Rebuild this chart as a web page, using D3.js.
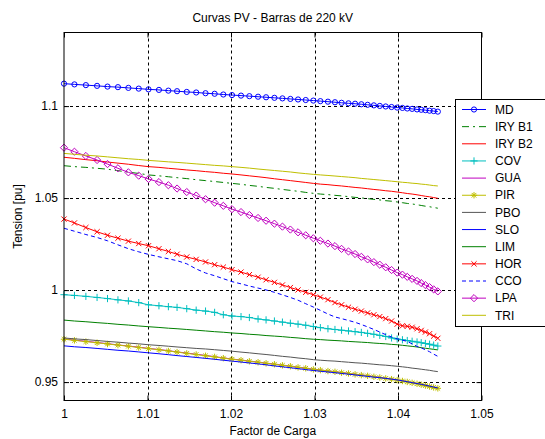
<!DOCTYPE html>
<html><head><meta charset="utf-8">
<script src="https://cdn.jsdelivr.net/npm/d3@7"></script>
<style>
html,body{margin:0;padding:0;background:#fff;}
svg{display:block;}
text{font-family:"Liberation Sans",Arial,sans-serif;}
</style>
</head><body>
<div id="chart"></div>
<script>
// ---------------- DATA ----------------
const chartTitle = "Curvas PV - Barras de 220 kV";
const xLabel = "Factor de Carga";
const yLabel = "Tension [pu]";
const seriesNames = ["MD","IRY B1","IRY B2","COV","GUA","PIR","PBO","SLO","LIM","HOR","CCO","LPA","TRI"];
const xTicks = [1, 1.01, 1.02, 1.03, 1.04, 1.05];
const xTickLabels = ["1","1.01","1.02","1.03","1.04","1.05"];
const yTicks = [0.95, 1, 1.05, 1.1];
const yTickLabels = ["0.95","1","1.05","1.1"];

const loadFactor = [1.00000,1.00125,1.00262,1.00396,1.00521,1.00646,1.00771,1.00895,1.01012,1.01137,
1.01250,1.01354,1.01470,1.01583,1.01695,1.01804,1.01908,1.02012,1.02120,1.02220,
1.02324,1.02420,1.02520,1.02616,1.02711,1.02803,1.02895,1.02986,1.03070,1.03161,
1.03245,1.03324,1.03407,1.03486,1.03561,1.03636,1.03711,1.03782,1.03853,1.03923,
1.03990,1.04053,1.04111,1.04169,1.04228,1.04278,1.04328,1.04378,1.04427,1.04477];

const md = [1.1122,1.1118,1.1114,1.1110,1.1106,1.1103,1.1099,1.1095,1.1091,1.1088,
1.1084,1.1081,1.1077,1.1074,1.1070,1.1067,1.1063,1.1060,1.1057,1.1054,
1.1051,1.1048,1.1045,1.1042,1.1039,1.1036,1.1033,1.1030,1.1027,1.1024,
1.1021,1.1018,1.1015,1.1013,1.1010,1.1007,1.1004,1.1001,1.0998,1.0995,
1.0992,1.0990,1.0987,1.0985,1.0982,1.0980,1.0978,1.0975,1.0973,1.0970];
const iryB1 = [1.0676,1.0671,1.0667,1.0662,1.0657,1.0649,1.0641,1.0634,1.0626,1.0621,
1.0616,1.0611,1.0606,1.0600,1.0595,1.0590,1.0585,1.0580,1.0575,1.0569,
1.0564,1.0558,1.0553,1.0547,1.0542,1.0537,1.0531,1.0526,1.0522,1.0519,
1.0515,1.0512,1.0508,1.0504,1.0501,1.0497,1.0493,1.0490,1.0486,1.0483,
1.0479,1.0475,1.0471,1.0468,1.0464,1.0460,1.0456,1.0453,1.0449,1.0445];
const iryB2 = [1.0722,1.0716,1.0709,1.0703,1.0696,1.0690,1.0684,1.0677,1.0671,1.0667,
1.0662,1.0658,1.0653,1.0649,1.0644,1.0640,1.0635,1.0631,1.0626,1.0621,
1.0616,1.0611,1.0605,1.0600,1.0595,1.0590,1.0585,1.0580,1.0576,1.0573,
1.0569,1.0566,1.0562,1.0558,1.0555,1.0551,1.0547,1.0544,1.0540,1.0537,
1.0533,1.0529,1.0525,1.0522,1.0518,1.0514,1.0510,1.0507,1.0503,1.0499];
const cov = [0.9975,0.9971,0.9966,0.9960,0.9954,0.9947,0.9941,0.9932,0.9920,0.9915,
0.9910,0.9906,0.9899,0.9891,0.9886,0.9879,0.9866,0.9859,0.9856,0.9851,
0.9843,0.9838,0.9832,0.9826,0.9820,0.9815,0.9809,0.9802,0.9796,0.9790,
0.9786,0.9782,0.9778,0.9774,0.9770,0.9765,0.9760,0.9754,0.9748,0.9740,
0.9734,0.9730,0.9726,0.9722,0.9718,0.9714,0.9710,0.9706,0.9701,0.9696];
const gua = [0.9735,0.9728,0.9722,0.9715,0.9709,0.9702,0.9696,0.9690,0.9683,0.9677,
0.9671,0.9664,0.9658,0.9651,0.9645,0.9638,0.9632,0.9625,0.9620,0.9614,
0.9609,0.9603,0.9598,0.9592,0.9587,0.9581,0.9576,0.9570,0.9566,0.9561,
0.9557,0.9552,0.9548,0.9543,0.9539,0.9535,0.9530,0.9526,0.9521,0.9517,
0.9512,0.9507,0.9502,0.9497,0.9492,0.9487,0.9482,0.9477,0.9472,0.9467];
const pir = [0.9733,0.9727,0.9720,0.9714,0.9707,0.9701,0.9695,0.9688,0.9682,0.9676,
0.9669,0.9663,0.9656,0.9650,0.9643,0.9637,0.9630,0.9624,0.9619,0.9613,
0.9608,0.9602,0.9597,0.9591,0.9586,0.9580,0.9575,0.9569,0.9565,0.9560,
0.9556,0.9551,0.9547,0.9542,0.9538,0.9534,0.9529,0.9525,0.9520,0.9516,
0.9511,0.9506,0.9501,0.9496,0.9491,0.9486,0.9481,0.9476,0.9471,0.9466];
const pbo = [0.9740,0.9735,0.9731,0.9726,0.9721,0.9717,0.9712,0.9708,0.9703,0.9699,
0.9695,0.9691,0.9687,0.9683,0.9680,0.9676,0.9672,0.9668,0.9663,0.9659,
0.9654,0.9650,0.9645,0.9640,0.9636,0.9631,0.9627,0.9622,0.9619,0.9616,
0.9614,0.9611,0.9608,0.9605,0.9603,0.9600,0.9597,0.9594,0.9592,0.9589,
0.9586,0.9583,0.9580,0.9576,0.9573,0.9570,0.9567,0.9564,0.9560,0.9557];
const slo = [0.9697,0.9692,0.9688,0.9683,0.9678,0.9673,0.9669,0.9664,0.9659,0.9654,
0.9649,0.9644,0.9639,0.9634,0.9629,0.9624,0.9619,0.9614,0.9609,0.9604,
0.9599,0.9594,0.9588,0.9583,0.9578,0.9573,0.9568,0.9563,0.9559,0.9555,
0.9551,0.9547,0.9543,0.9539,0.9535,0.9531,0.9527,0.9524,0.9520,0.9516,
0.9512,0.9507,0.9502,0.9497,0.9492,0.9488,0.9483,0.9478,0.9473,0.9468];
const lim = [0.9837,0.9832,0.9828,0.9823,0.9819,0.9814,0.9810,0.9805,0.9801,0.9797,
0.9793,0.9790,0.9786,0.9782,0.9778,0.9774,0.9771,0.9767,0.9764,0.9760,
0.9757,0.9753,0.9750,0.9747,0.9743,0.9740,0.9736,0.9733,0.9731,0.9728,
0.9726,0.9724,0.9721,0.9719,0.9717,0.9715,0.9712,0.9710,0.9708,0.9705,
0.9703,0.9700,0.9697,0.9694,0.9691,0.9687,0.9684,0.9681,0.9678,0.9675];
const hor = [1.0386,1.0365,1.0340,1.0317,1.0298,1.0282,1.0266,1.0253,1.0241,1.0225,
1.0210,1.0195,1.0180,1.0167,1.0153,1.0138,1.0125,1.0111,1.0098,1.0084,
1.0070,1.0056,1.0042,1.0028,1.0014,1.0001,0.9988,0.9975,0.9962,0.9948,
0.9932,0.9920,0.9907,0.9896,0.9886,0.9876,0.9866,0.9856,0.9845,0.9832,
0.9815,0.9806,0.9803,0.9798,0.9790,0.9781,0.9772,0.9763,0.9750,0.9738];
const cco = [1.0336,1.0320,1.0302,1.0286,1.0268,1.0246,1.0225,1.0208,1.0194,1.0181,
1.0170,1.0160,1.0143,1.0115,1.0093,1.0078,1.0062,1.0046,1.0034,1.0022,
1.0011,1.0001,0.9988,0.9974,0.9960,0.9945,0.9926,0.9908,0.9890,0.9870,
0.9854,0.9845,0.9835,0.9825,0.9813,0.9800,0.9786,0.9772,0.9758,0.9745,
0.9735,0.9728,0.9721,0.9708,0.9694,0.9686,0.9676,0.9665,0.9652,0.9640];
const lpa = [1.0774,1.0752,1.0729,1.0707,1.0685,1.0662,1.0640,1.0622,1.0604,1.0587,
1.0570,1.0552,1.0533,1.0514,1.0494,1.0475,1.0458,1.0440,1.0424,1.0408,
1.0392,1.0377,1.0361,1.0345,1.0329,1.0314,1.0298,1.0282,1.0268,1.0253,
1.0239,1.0224,1.0210,1.0196,1.0181,1.0167,1.0152,1.0138,1.0124,1.0109,
1.0095,1.0084,1.0072,1.0061,1.0050,1.0038,1.0027,1.0016,1.0004,0.9993];
const tri = [1.0743,1.0738,1.0733,1.0729,1.0724,1.0719,1.0714,1.0710,1.0705,1.0701,
1.0697,1.0694,1.0690,1.0686,1.0682,1.0678,1.0675,1.0671,1.0667,1.0663,
1.0658,1.0654,1.0650,1.0646,1.0642,1.0637,1.0633,1.0629,1.0626,1.0623,
1.0620,1.0617,1.0614,1.0611,1.0607,1.0604,1.0601,1.0598,1.0595,1.0592,
1.0589,1.0586,1.0584,1.0581,1.0579,1.0576,1.0574,1.0571,1.0568,1.0566];

const seriesValues = [md, iryB1, iryB2, cov, gua, pir, pbo, slo, lim, hor, cco, lpa, tri];

// ---------------- STYLE ----------------
const styles = [
  {color:"#0000ff", dash:null, marker:"o"},
  {color:"#008000", dash:"7,4,2,4", marker:null},
  {color:"#ff0000", dash:null, marker:null},
  {color:"#00bfbf", dash:null, marker:"+"},
  {color:"#bf00bf", dash:null, marker:null},
  {color:"#bfbf00", dash:null, marker:"*"},
  {color:"#555555", dash:null, marker:null},
  {color:"#0000ff", dash:null, marker:null},
  {color:"#008000", dash:null, marker:null},
  {color:"#ff0000", dash:null, marker:"x"},
  {color:"#0000ff", dash:"4,3", marker:null},
  {color:"#bf00bf", dash:null, marker:"d"},
  {color:"#bfbf00", dash:null, marker:null}
];

const W = 545, H = 439;
const plot = {left:64, right:481.5, top:32.5, bottom:400.5};

const svg = d3.select("#chart").append("svg").attr("width", W).attr("height", H);
svg.append("rect").attr("width", W).attr("height", H).attr("fill", "#fff");

const x = d3.scaleLinear().domain([1, 1.05]).range([plot.left, plot.right]);
const y = d3.scaleLinear().domain([0.94, 1.14]).range([plot.bottom, plot.top]);

// plot background
svg.append("rect").attr("x", plot.left).attr("y", plot.top)
  .attr("width", plot.right - plot.left).attr("height", plot.bottom - plot.top).attr("fill", "#fff");

// grid
const grid = svg.append("g").attr("stroke", "#000").attr("stroke-width", 1).attr("stroke-dasharray", "3,3");
xTicks.filter(t => t > 1 && t < 1.05).forEach(t => {
  grid.append("line").attr("x1", Math.round(x(t)) + 0.5).attr("x2", Math.round(x(t)) + 0.5)
    .attr("y1", plot.top).attr("y2", plot.bottom);
});
yTicks.forEach(t => {
  grid.append("line").attr("y1", Math.round(y(t)) + 0.5).attr("y2", Math.round(y(t)) + 0.5)
    .attr("x1", plot.left).attr("x2", plot.right);
});

// series
const line = d3.line().x((d, i) => x(loadFactor[i])).y(d => y(d));

function drawMarker(g, type, cx, cy, color) {
  if (type === "o") {
    g.append("circle").attr("cx", cx).attr("cy", cy).attr("r", 2.6)
      .attr("fill", "none").attr("stroke", color).attr("stroke-width", 1);
  } else if (type === "d") {
    const s = 3.6;
    g.append("path").attr("d", `M${cx},${cy - s}L${cx + s},${cy}L${cx},${cy + s}L${cx - s},${cy}Z`)
      .attr("fill", "none").attr("stroke", color).attr("stroke-width", 1);
  } else if (type === "x") {
    const s = 2.6;
    g.append("path").attr("d", `M${cx - s},${cy - s}L${cx + s},${cy + s}M${cx - s},${cy + s}L${cx + s},${cy - s}`)
      .attr("stroke", color).attr("stroke-width", 1);
  } else if (type === "+") {
    const s = 3.6;
    g.append("path").attr("d", `M${cx - s},${cy}L${cx + s},${cy}M${cx},${cy - s}L${cx},${cy + s}`)
      .attr("stroke", color).attr("stroke-width", 1);
  } else if (type === "*") {
    const s = 3.2, t = 2.3;
    g.append("path").attr("d", `M${cx - s},${cy}L${cx + s},${cy}M${cx},${cy - s}L${cx},${cy + s}M${cx - t},${cy - t}L${cx + t},${cy + t}M${cx - t},${cy + t}L${cx + t},${cy - t}`)
      .attr("stroke", color).attr("stroke-width", 1);
  }
}

const seriesG = svg.append("g");
seriesValues.forEach((vals, si) => {
  const st = styles[si];
  const g = seriesG.append("g");
  g.append("path").attr("d", line(vals)).attr("fill", "none")
    .attr("stroke", st.color).attr("stroke-width", 1)
    .attr("stroke-dasharray", st.dash);
  if (st.marker) {
    vals.forEach((v, i) => drawMarker(g, st.marker, x(loadFactor[i]), y(v), st.color));
  }
});

// axes frame
svg.append("rect").attr("x", plot.left).attr("y", plot.top)
  .attr("width", plot.right - plot.left).attr("height", plot.bottom - plot.top)
  .attr("fill", "none").attr("stroke", "#000").attr("stroke-width", 1);

const xAxis = d3.axisBottom(x).tickValues(xTicks).tickFormat((d, i) => xTickLabels[i]).tickSize(-5).tickPadding(9);
const gx = svg.append("g").attr("transform", `translate(0,${plot.bottom})`).call(xAxis);
const xAxisTop = d3.axisTop(x).tickValues(xTicks).tickFormat("").tickSize(-5);
const gxt = svg.append("g").attr("transform", `translate(0,${plot.top})`).call(xAxisTop);
const yAxis = d3.axisLeft(y).tickValues(yTicks).tickFormat((d, i) => yTickLabels[i]).tickSize(-5).tickPadding(6);
const gy = svg.append("g").attr("transform", `translate(${plot.left},0)`).call(yAxis);
const yAxisRight = d3.axisRight(y).tickValues(yTicks).tickFormat("").tickSize(-5);
const gyr = svg.append("g").attr("transform", `translate(${plot.right},0)`).call(yAxisRight);
[gx, gxt, gy, gyr].forEach(g => {
  g.select(".domain").remove();
  g.selectAll("text").attr("font-size", 12).attr("font-family", '"Liberation Sans",Arial,sans-serif').attr("fill", "#000");
});

// titles
svg.append("text").attr("x", (plot.left + plot.right) / 2).attr("y", 22)
  .attr("text-anchor", "middle").attr("font-size", 12).text(chartTitle);
svg.append("text").attr("x", (plot.left + plot.right) / 2).attr("y", 435)
  .attr("text-anchor", "middle").attr("font-size", 12).text(xLabel);
svg.append("text").attr("transform", `translate(22,${(plot.top + plot.bottom) / 2}) rotate(-90)`)
  .attr("text-anchor", "middle").attr("font-size", 12).text(yLabel);

// legend
const leg = {left:455.5, top:99.5, bottom:326.5, right:560};
const lg = svg.append("g");
lg.append("rect").attr("x", leg.left).attr("y", leg.top)
  .attr("width", leg.right - leg.left).attr("height", leg.bottom - leg.top)
  .attr("fill", "#fff").attr("stroke", "#000").attr("stroke-width", 1);
seriesNames.forEach((name, i) => {
  const st = styles[i];
  const cy = 109.5 + i * 17.15;
  lg.append("line").attr("x1", 462).attr("x2", 486).attr("y1", cy).attr("y2", cy)
    .attr("stroke", st.color).attr("stroke-width", 1).attr("stroke-dasharray", st.dash);
  if (st.marker) drawMarker(lg, st.marker, 474, cy, st.color);
  lg.append("text").attr("x", 495).attr("y", cy).attr("dy", "0.35em")
    .attr("font-size", 12).text(name);
});
</script>
</body></html>
